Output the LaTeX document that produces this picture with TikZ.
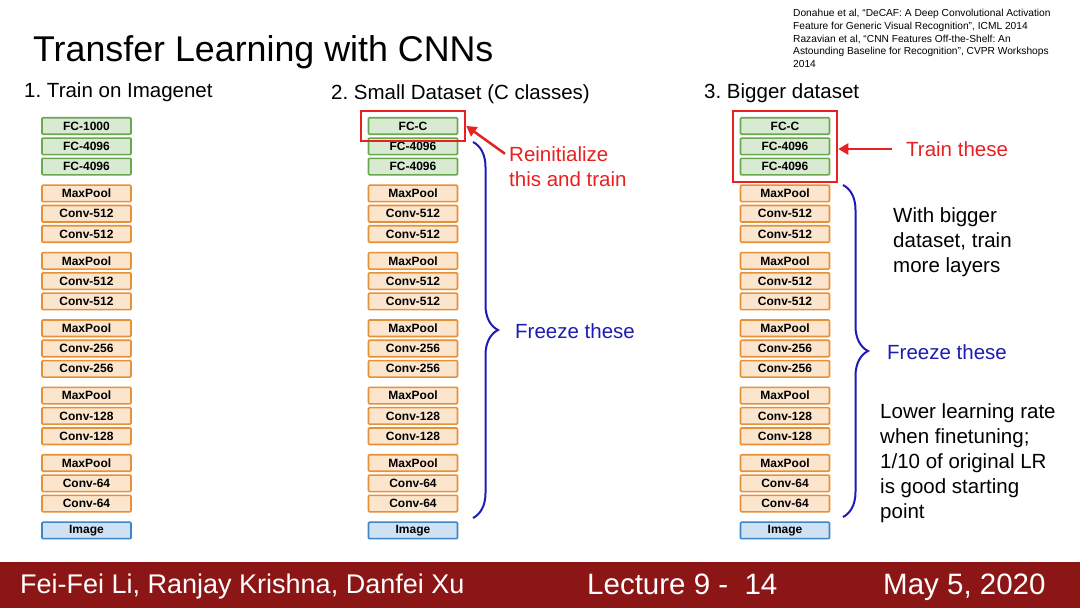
\documentclass[tikz,border=0pt]{standalone}
\usepackage{fontspec}
\setmainfont{Liberation Sans}
\usetikzlibrary{arrows.meta, positioning, fit, decorations.pathreplacing}
\frenchspacing

\definecolor{fcfill}{HTML}{D9EAD3}
\definecolor{fcline}{HTML}{6AA84F}
\definecolor{convfill}{HTML}{FCE5CD}
\definecolor{convline}{HTML}{E69138}
\definecolor{imgfill}{HTML}{CFE2F3}
\definecolor{imgline}{HTML}{3D85C6}
\definecolor{slidered}{HTML}{E8201F}
\definecolor{braceblue}{HTML}{1C1CB4}
\definecolor{barred}{HTML}{8C1515}

\tikzset{
  layer/.style={draw, line width=1.6pt, rounded corners=1pt, minimum width=89pt,
    minimum height=16.5pt, inner sep=0pt, font=\fontsize{12}{12}\selectfont\bfseries},
  fcbox/.style={layer, draw=fcline, fill=fcfill},
  convbox/.style={layer, draw=convline, fill=convfill},
  imgbox/.style={layer, draw=imgline, fill=imgfill},
  redbox/.style={draw=slidered, line width=2pt, inner xsep=7pt, inner ysep=6pt},
  redarrow/.style={draw=slidered, line width=2.5pt, -{Triangle[length=10pt,width=11pt]}},
  freeze/.style={draw=braceblue, line width=2pt, decorate, decoration={brace, amplitude=25pt}},
  note/.style={inner sep=0pt, align=left, font=\fontsize{20.5}{25}\selectfont},
}

% one VGG column: prefix, x centre, top layer label
\newcommand{\layerstack}[3]{%
  \foreach \g/\i/\lab/\sty in {0/0/#3/fcbox, 0/1/FC-4096/fcbox, 0/2/FC-4096/fcbox,
      1/0/MaxPool/convbox, 1/1/Conv-512/convbox, 1/2/Conv-512/convbox,
      2/0/MaxPool/convbox, 2/1/Conv-512/convbox, 2/2/Conv-512/convbox,
      3/0/MaxPool/convbox, 3/1/Conv-256/convbox, 3/2/Conv-256/convbox,
      4/0/MaxPool/convbox, 4/1/Conv-128/convbox, 4/2/Conv-128/convbox,
      5/0/MaxPool/convbox, 5/1/Conv-64/convbox, 5/2/Conv-64/convbox,
      6/0/Image/imgbox}
    \node[\sty] (#1-\g-\i) at (#2, {126+67.4*\g+20.3*\i}) {\lab};%
}

\begin{document}
\begin{tikzpicture}[x=1pt, y=-1pt]
  \useasboundingbox (0,0) rectangle (1080,608);

  % Titel und Quellen
  \node[anchor=base west, inner sep=0pt, font=\fontsize{35.8}{35.8}\selectfont] (title) at (33,61) {Transfer Learning with CNNs};
  \node[anchor=north west, inner sep=0pt, align=left, font=\fontsize{10.2}{12.8}\selectfont] (refs) at (793,9)
    {Donahue et al, ``DeCAF: A Deep Convolutional Activation\\Feature for Generic Visual Recognition'', ICML 2014\\Razavian et al, ``CNN Features Off-the-Shelf: An\\Astounding Baseline for Recognition'', CVPR Workshops\\2014};

  % Spaltenkoepfe
  \node[note, anchor=base west] (head1) at (24,97) {1. Train on Imagenet};
  \node[note, anchor=base west] (head2) at (331,99) {2. Small Dataset (C classes)};
  \node[note, anchor=base west] (head3) at (704,98) {3. Bigger dataset};

  % Netze
  \layerstack{a}{86.5}{FC-1000}
  \layerstack{m}{413}{FC-C}
  \layerstack{b}{785}{FC-C}

  % Spalte 2: kleiner Datensatz
  \node[redbox, fit=(m-0-0)] (reinitbox) {};
  \node[note, text=slidered, anchor=west] (reinit) at (509,167) {Reinitialize\\this and train};
  \draw[redarrow] ([shift={(-4,7)}]reinit.north west) -- (reinitbox.east);
  \coordinate (mtop) at (473,142);
  \coordinate (mbot) at (473,518);
  \draw[freeze] (mtop) -- (mbot);
  \node[note, text=braceblue, anchor=west] (mfreeze) at (515,331) {Freeze these};

  % Spalte 3: groesserer Datensatz
  \node[redbox, fit=(b-0-0)(b-0-2)] (trainbox) {};
  \node[note, text=slidered, anchor=west] (train) at (906,149) {Train these};
  \draw[redarrow] ([xshift=-14pt]train.west) -- (trainbox.east |- train.west);
  \coordinate (btop) at (843,185);
  \coordinate (bbot) at (843,517);
  \draw[freeze] (btop) -- (bbot);
  \node[note, text=braceblue, anchor=west] (bfreeze) at (887,352) {Freeze these};
  \node[note, anchor=west] (bigger) at (893,242) {With bigger\\dataset, train\\more layers};
  \node[note, anchor=west] (lower) at (880,463) {Lower learning rate\\when finetuning;\\1/10 of original LR\\is good starting\\point};

  % Fusszeile
  \fill[barred] (0,562) rectangle (1080,608);
  \node[anchor=base west, inner sep=0pt, text=white, font=\fontsize{27}{27}\selectfont] (authors) at (20,593) {Fei-Fei Li, Ranjay Krishna, Danfei Xu};
  \node[anchor=base west, inner sep=0pt, text=white, font=\fontsize{29.5}{29.5}\selectfont] (lecture) at (587,594) {Lecture 9 -\ \ 14};
  \node[anchor=base west, inner sep=0pt, text=white, font=\fontsize{29.5}{29.5}\selectfont] (date) at (883,594) {May 5, 2020};
\end{tikzpicture}
\end{document}
